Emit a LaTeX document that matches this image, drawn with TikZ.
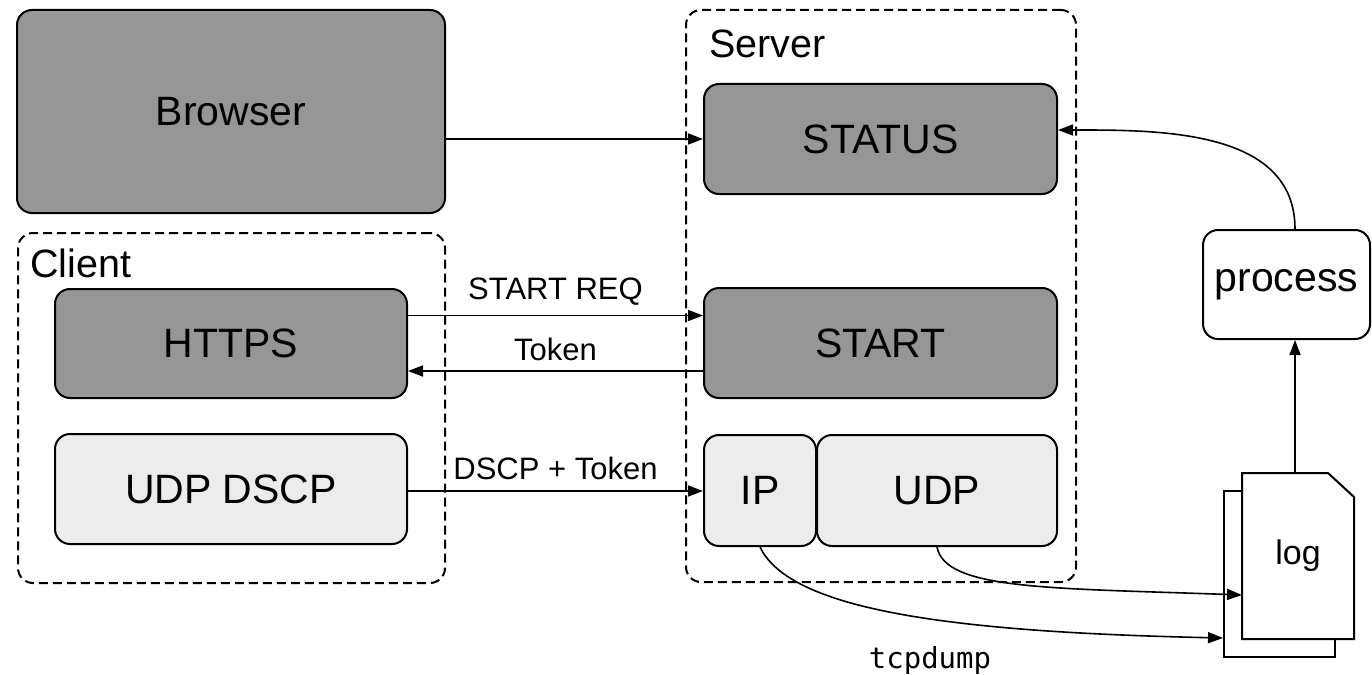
\documentclass[tikz,border=0pt]{standalone}
\usepackage{fontspec}
\setmainfont{Liberation Sans}
\newfontfamily\monof{DejaVu Sans Mono}
\usetikzlibrary{arrows.meta,calc}
\definecolor{darkfill}{RGB}{150,150,150}
\definecolor{lightfill}{RGB}{236,236,236}
\tikzset{
  box/.style={draw=black, line width=2pt, rounded corners=15pt, inner sep=0pt, font=\fontsize{41}{44}\selectfont},
  darkbox/.style={box, fill=darkfill},
  lightbox/.style={box, fill=lightfill},
  group/.style={draw=black, line width=2pt, dash pattern=on 9pt off 5pt, rounded corners=15pt, inner sep=0pt},
  grouplabel/.style={font=\fontsize{39.5}{42}\selectfont, inner sep=0pt, anchor=base west},
  arr/.style={line width=1.6pt, -{Triangle[length=15pt,width=11pt]}},
  elabel/.style={font=\fontsize{31}{33}\selectfont, inner sep=0pt},
  page/.style={draw=black, line width=2pt, fill=white, inner sep=0pt}
}
\begin{document}
\begin{tikzpicture}[x=1pt,y=-1pt]
\useasboundingbox (0,0) rectangle (1372,674);
% containers
\node[group, minimum width=427pt, minimum height=350pt] (client) at (231.5,408) {};
\node[grouplabel] (clientlbl) at (30,277) {Client};
\node[group, minimum width=390pt, minimum height=572pt] (server) at (881,296) {};
\node[grouplabel] (serverlbl) at (709,58) {Server};
% boxes
\node[darkbox, minimum width=428pt, minimum height=203pt] (browser) at (231,111.5) {Browser};
\node[darkbox, minimum width=352pt, minimum height=109pt] (https) at (231,343.5) {HTTPS};
\node[lightbox, minimum width=352pt, minimum height=110pt] (udpdscp) at (231,489) {UDP DSCP};
\node[darkbox, minimum width=353pt, minimum height=110pt] (status) at (880.5,139) {STATUS};
\node[darkbox, minimum width=353pt, minimum height=110pt] (start) at (880.5,343) {START};
\node[lightbox, minimum width=112pt, minimum height=111pt] (ip) at (760,490.5) {IP};
\node[lightbox, minimum width=240pt, minimum height=111pt] (udp) at (937,490.5) {UDP};
\node[box, fill=white, minimum width=167pt, minimum height=109pt] (process) at (1286.5,284.5) {process};
% log pages
\node[page, minimum width=111pt, minimum height=166pt] (logback) at (1279.5,574) {};
\coordinate (log) at (1298,556);
\path (log) ++(-56,83) coordinate (logsw) ++(0,-166) coordinate (lognw) ++(112,0) coordinate (logne) ++(0,166) coordinate (logse);
\draw[line width=2pt, fill=white, line join=miter]
  (logsw) -- (lognw) -- ([xshift=-26pt]logne) -- ([yshift=-24pt]logne) -- (logse) -- cycle;
\node[inner sep=0pt, font=\fontsize{34}{36}\selectfont] (logtext) at (log) {log};
% connectors
\draw[arr] (browser.east |- status.west) -- (status.west);
\draw[arr] ([yshift=28pt]https.east) -- ([yshift=28pt]https.east -| start.west)
  node[elabel, midway, above=9pt] (lreq) {START REQ};
\draw[arr] ([yshift=-28pt]start.west) -- ([yshift=-28pt]start.west -| https.east)
  node[elabel, midway, above=9pt] (ltok) {Token};
\draw[arr] ([yshift=-2pt]udpdscp.east) -- ([yshift=-2pt]udpdscp.east -| ip.west)
  node[elabel, midway, above=10pt] (ldscp) {DSCP + Token};
\draw[arr] (lognw -| 1295,0) -- (process.south -| 1295,0);
\draw[arr] (process.north -| 1295,0) to[out=90,in=0] ([yshift=9pt]status.east);
\draw[arr] (ip.south) .. controls (790,610) and (950,632) .. ([yshift=20pt]logback.south west);
\draw[arr] (udp.south) .. controls (945,590) and (1050,588) .. ([yshift=-39pt]lognw |- log);
\node[font=\monof\fontsize{29}{30}\selectfont, inner sep=0pt] (tcpdump) at (930,660) {tcpdump};
\end{tikzpicture}
\end{document}
